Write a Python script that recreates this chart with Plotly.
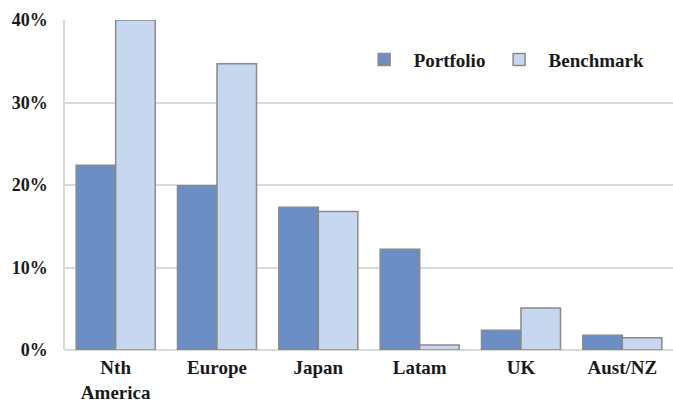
import plotly.graph_objects as go

categories = ["Nth<br>America", "Europe", "Japan", "Latam", "UK", "Aust/NZ"]
portfolio = [22.4, 19.9, 17.3, 12.2, 2.4, 1.8]
benchmark = [40.0, 34.7, 16.8, 0.6, 5.1, 1.5]
series_names = ["\u00a0\u00a0Portfolio", "\u00a0\u00a0Benchmark"]
y_ticks = [0, 10, 20, 30, 40]
y_labels = ["0%", "10%", "20%", "30%", "40%"]

FAM = "Times New Roman, Liberation Serif, DejaVu Serif, serif"
font = dict(family=FAM, size=18, color="#1a1a1a", weight="bold")

fig = go.Figure()
fig.add_bar(x=categories, y=portfolio, name=series_names[0], legend="legend",
            marker=dict(color="rgb(107,143,196)", line=dict(color="#8a8a8a", width=1.5)))
fig.add_bar(x=categories, y=benchmark, name=series_names[1], legend="legend2",
            marker=dict(color="rgb(198,215,239)", line=dict(color="#8a8a8a", width=1.5)))

legend_common = dict(orientation="h", y=0.88, xanchor="left", yanchor="middle",
                     bgcolor="rgba(0,0,0,0)", font=dict(family=FAM, size=19, weight="bold"),
                     itemwidth=30)

fig.update_layout(
    width=673, height=405,
    margin=dict(l=65, r=0, t=20, b=55, autoexpand=False),
    paper_bgcolor="white", plot_bgcolor="white",
    barmode="group", bargap=0.22, bargroupgap=0,
    font=font,
    showlegend=True,
    legend=dict(x=0.492, **legend_common),
    legend2=dict(x=0.714, **legend_common),
    xaxis=dict(showgrid=False, showline=False, ticks="", range=[-0.5, 5.5],
               ticklabelstandoff=4,
               tickfont=dict(family=FAM, size=19, weight="bold")),
    yaxis=dict(range=[0, 40], tickvals=y_ticks, ticktext=y_labels,
               showgrid=True, gridcolor="#d9d9d9", gridwidth=1.5,
               showline=True, linecolor="#d9d9d9", linewidth=1.5,
               zeroline=True, zerolinecolor="#d9d9d9", zerolinewidth=1.5,
               ticks="", ticklabelstandoff=12,
               tickfont=dict(family=FAM, size=18, weight="bold")),
)
fig.write_html("out.html")
